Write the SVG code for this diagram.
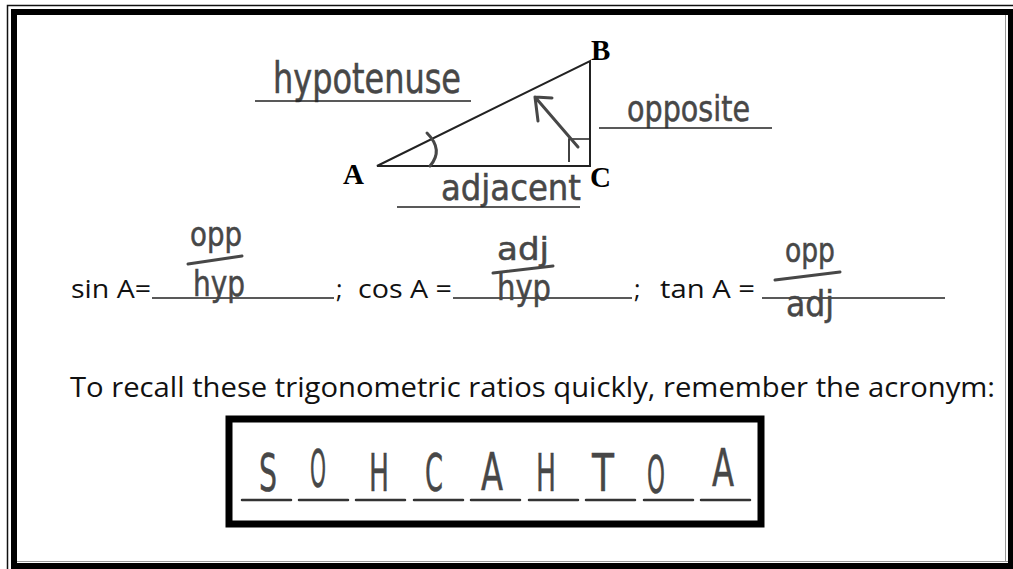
<svg xmlns="http://www.w3.org/2000/svg" width="1013" height="569" viewBox="0 0 1013 569">
<style>
.hand{font-family:"DejaVu Sans Condensed","DejaVu Sans",sans-serif;fill:#474747;stroke:#474747;stroke-width:0.5}
.print{font-family:"Open Sans","Noto Sans","Liberation Sans",sans-serif;fill:#111}
.vtx{font-family:"Liberation Serif",serif;font-weight:bold;font-size:29px;fill:#000}
.rule{stroke:#222;stroke-width:1.7;fill:none}
.pen{stroke:#474747;stroke-width:3;fill:none;stroke-linecap:round;stroke-linejoin:round}
.dash{stroke:#333;stroke-width:2.5;stroke-linecap:round}
</style>
<rect x="0" y="0" width="1013" height="569" fill="#fff"/>
<g id="frame">
<rect x="7.5" y="5.5" width="1010" height="570" fill="none" stroke="#111" stroke-width="1.5"/>
<rect x="14" y="12" width="997" height="554" fill="none" stroke="#000" stroke-width="6"/>
<line x1="17" y1="561.5" x2="1008" y2="561.5" stroke="#999" stroke-width="1"/>
<line x1="1005.5" y1="15" x2="1005.5" y2="561" stroke="#999" stroke-width="1"/>
</g>
<g id="triangle">
<polygon points="377,166 590,61 590,166" fill="none" stroke="#222" stroke-width="2"/>
<polyline points="569,162 569,139 590,139" class="rule"/>
<path d="M427,133 Q444,150 430,166" class="pen" stroke-width="2.5"/>
<text class="vtx" x="343" y="184">A</text>
<text class="vtx" x="591" y="60">B</text>
<text class="vtx" x="590" y="187">C</text>
</g>
<g id="arrow">
<path d="M578,147 L535,97 M535,97 L552,98 M535,97 L538,121" class="pen"/>
</g>
<g id="hypotenuse-label">
<text class="hand" x="273" y="93" font-size="42" textLength="188" lengthAdjust="spacingAndGlyphs">hypotenuse</text>
<line x1="255" y1="101" x2="471" y2="101" class="rule"/>
</g>
<g id="opposite-label">
<text class="hand" x="627" y="121" font-size="36" textLength="123" lengthAdjust="spacingAndGlyphs">opposite</text>
<line x1="599" y1="128" x2="772" y2="128" class="rule"/>
</g>
<g id="adjacent-label">
<text class="hand" x="441" y="200" font-size="36" textLength="140" lengthAdjust="spacingAndGlyphs">adjacent</text>
<line x1="397" y1="207" x2="580" y2="207" class="rule"/>
</g>
<g id="ratios">
<text class="print" x="71" y="298" font-size="25" textLength="80" lengthAdjust="spacingAndGlyphs">sin A=</text>
<line x1="152" y1="298" x2="334" y2="298" class="rule"/>
<text class="print" x="336" y="298" font-size="25">;</text>
<text class="print" x="358" y="298" font-size="25" textLength="94" lengthAdjust="spacingAndGlyphs">cos A =</text>
<line x1="453" y1="298" x2="632" y2="298" class="rule"/>
<text class="print" x="634" y="298" font-size="25">;</text>
<text class="print" x="660" y="298" font-size="25" textLength="95" lengthAdjust="spacingAndGlyphs">tan A =</text>
<line x1="762" y1="298" x2="945" y2="298" class="rule"/>
</g>
<g id="sin-fraction">
<text class="hand" x="190" y="246" font-size="34" textLength="52" lengthAdjust="spacingAndGlyphs">opp</text>
<line x1="188" y1="264" x2="242" y2="256" class="pen"/>
<text class="hand" x="193" y="296" font-size="36" textLength="52" lengthAdjust="spacingAndGlyphs">hyp</text>
</g>
<g id="cos-fraction">
<text class="hand" x="497" y="260" font-size="32" textLength="52" lengthAdjust="spacingAndGlyphs">adj</text>
<line x1="493" y1="273" x2="553" y2="266" class="pen"/>
<text class="hand" x="497" y="300" font-size="35" textLength="54" lengthAdjust="spacingAndGlyphs">hyp</text>
</g>
<g id="tan-fraction">
<text class="hand" x="785" y="262" font-size="34" textLength="50" lengthAdjust="spacingAndGlyphs">opp</text>
<line x1="775" y1="280" x2="840" y2="272" class="pen"/>
<text class="hand" x="786" y="316" font-size="36" textLength="48" lengthAdjust="spacingAndGlyphs">adj</text>
</g>
<g id="instruction">
<text class="print" x="70" y="397" font-size="27" textLength="925" lengthAdjust="spacingAndGlyphs">To recall these trigonometric ratios quickly, remember the acronym:</text>
</g>
<g id="acronym-box">
<rect x="229" y="419" width="532" height="105" fill="none" stroke="#000" stroke-width="7"/>
<line class="dash" x1="242" y1="500" x2="291" y2="500"/>
<line class="dash" x1="299" y1="500" x2="348" y2="500"/>
<line class="dash" x1="356" y1="500" x2="405" y2="500"/>
<line class="dash" x1="414" y1="500" x2="463" y2="500"/>
<line class="dash" x1="471" y1="500" x2="520" y2="500"/>
<line class="dash" x1="529" y1="500" x2="578" y2="500"/>
<line class="dash" x1="586" y1="500" x2="635" y2="500"/>
<line class="dash" x1="644" y1="500" x2="693" y2="500"/>
<line class="dash" x1="701" y1="500" x2="750" y2="500"/>
<g class="hand" font-size="52">
<text x="259" y="491" textLength="18" lengthAdjust="spacingAndGlyphs">S</text>
<text x="310" y="487" textLength="16" lengthAdjust="spacingAndGlyphs">O</text>
<text x="369" y="491" textLength="20" lengthAdjust="spacingAndGlyphs">H</text>
<text x="425" y="491" textLength="18" lengthAdjust="spacingAndGlyphs">C</text>
<text x="481" y="490" textLength="22" lengthAdjust="spacingAndGlyphs">A</text>
<text x="536" y="491" textLength="20" lengthAdjust="spacingAndGlyphs">H</text>
<text x="592" y="491" textLength="22" lengthAdjust="spacingAndGlyphs">T</text>
<text x="647" y="493" textLength="18" lengthAdjust="spacingAndGlyphs">O</text>
<text x="712" y="486" textLength="22" lengthAdjust="spacingAndGlyphs">A</text>
</g>
</g>
</svg>
